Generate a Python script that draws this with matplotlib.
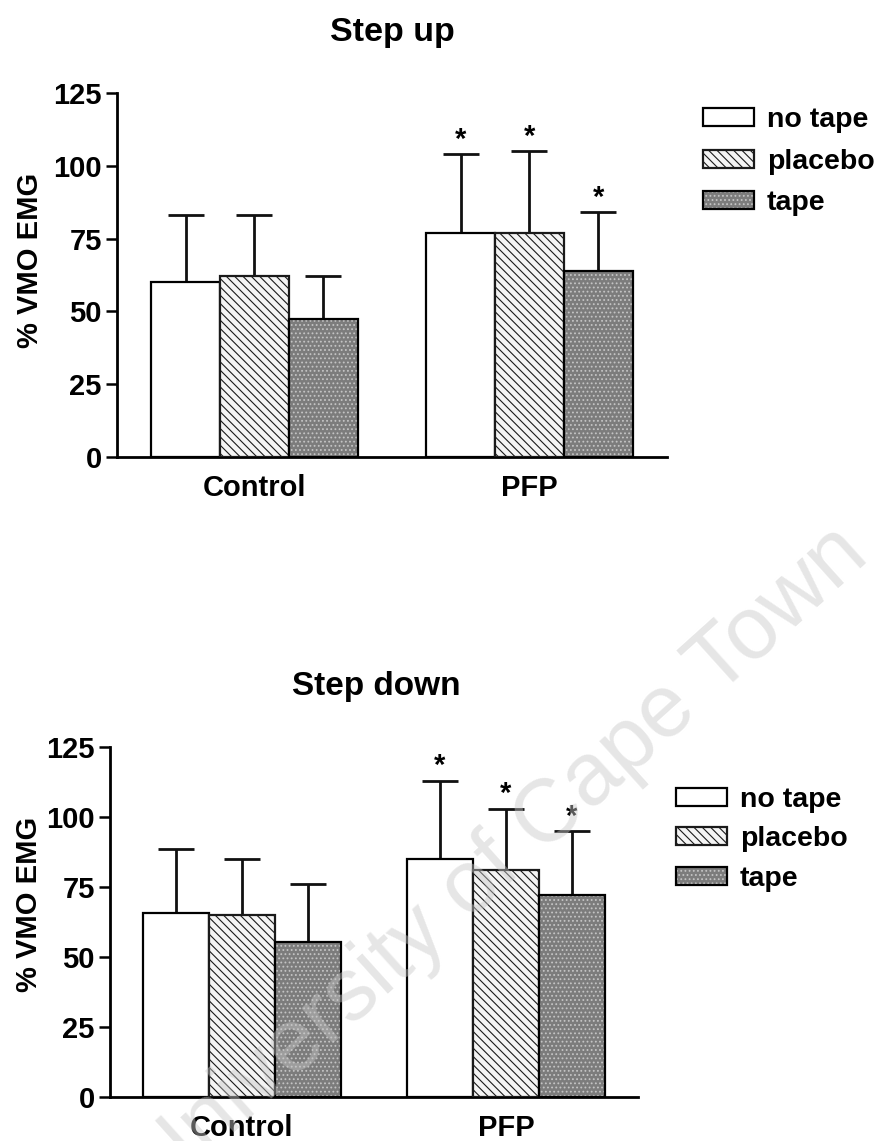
import numpy as np
import matplotlib
matplotlib.use("Agg")
import matplotlib.pyplot as plt
from matplotlib.legend_handler import HandlerTuple

plt.rcParams['font.family'] = ['Liberation Sans', 'DejaVu Sans']
plt.rcParams['font.weight'] = 'bold'
plt.rcParams['hatch.linewidth'] = 0.8

groups = ['Control', 'PFP']
conditions = ['no tape', 'placebo', 'tape']

# step up: mean and SD (% VMO EMG)
up_control_mean = [60, 62, 47.5]
up_control_sd = [23, 21, 14.5]
up_pfp_mean = [77, 77, 64]
up_pfp_sd = [27, 28, 20]

# step down
down_control_mean = [65.7, 65, 55.5]
down_control_sd = [23, 20, 20.5]
down_pfp_mean = [85, 81, 72]
down_pfp_sd = [28, 22, 23]

# * = significant vs control
pfp_sig = [True, True, True]

yticks = [0, 25, 50, 75, 100, 125]

W, H = 879, 1141
fig = plt.figure(figsize=(W / 100, H / 100), dpi=100)


def draw_panel(ax, means, sds, title, title_xy, title_size, label_xy, legend_xy, spacing):
    handles = []
    for i, cond in enumerate(conditions):
        x = np.array([1 + i, 5 + i])
        m = np.array([means[0][i], means[1][i]])
        s = np.array([sds[0][i], sds[1][i]])
        if cond == 'no tape':
            b = ax.bar(x, m, width=1.0, facecolor='white', edgecolor='black',
                       linewidth=1.6, zorder=3)
            handles.append(b.patches[0])
        elif cond == 'placebo':
            b = ax.bar(x, m, width=1.0, facecolor='#f4f4f4', edgecolor='#1a1a1a',
                       hatch='\\\\\\\\', linewidth=1.6, zorder=3)
            handles.append(b.patches[0])
        else:
            f = ax.bar(x, m, width=1.0, facecolor='#7c7c7c', edgecolor='#c4c4c4',
                       hatch='....', linewidth=0, zorder=3)
            o = ax.bar(x, m, width=1.0, fill=False, edgecolor='black',
                       linewidth=1.6, zorder=4)
            handles.append((f.patches[0], o.patches[0]))
        ax.errorbar(x, m, yerr=[np.zeros_like(s), s], fmt='none', ecolor='#111111',
                    elinewidth=2, capsize=13, capthick=2, zorder=2)
        if pfp_sig[i]:
            ax.annotate('*', (x[1], m[1] + s[1]), xytext=(0, 4.5),
                        textcoords='offset points', ha='center', va='baseline',
                        fontsize=21, fontweight='bold')

    ax.set_xlim(0, 8)
    ax.set_ylim(0, 125)
    ax.set_xticks([2, 6])
    ax.set_xticklabels(groups, fontsize=21, fontweight='bold')
    ax.set_yticks(yticks)
    ax.set_yticklabels([str(t) for t in yticks], fontsize=21, fontweight='bold')
    ax.tick_params(axis='x', length=0, pad=12)
    ax.tick_params(axis='y', length=8, width=1.8, pad=3)
    for side in ['top', 'right']:
        ax.spines[side].set_visible(False)
    for side in ['left', 'bottom']:
        ax.spines[side].set_linewidth(2)
    ax.set_ylabel('% VMO EMG', fontsize=21, fontweight='bold')
    ax.yaxis.set_label_coords(*label_xy)

    fig.text(title_xy[0] / W, 1 - title_xy[1] / H, title, ha='center', va='baseline',
             fontsize=title_size, fontweight='bold')

    fig.legend(handles, conditions, loc='upper left',
               bbox_to_anchor=(legend_xy[0] / W, 1 - legend_xy[1] / H),
               frameon=False, borderpad=0, borderaxespad=0,
               handlelength=1.8, handleheight=0.6, handletextpad=0.45,
               labelspacing=spacing, prop={'weight': 'bold', 'size': 20.5},
               handler_map={tuple: HandlerTuple(ndivide=1)})


ax1 = fig.add_axes([117 / W, 1 - 457 / H, 550 / W, 364 / H])
draw_panel(ax1, [up_control_mean, up_pfp_mean], [up_control_sd, up_pfp_sd],
           'Step up', (392, 41), 24.5, (-0.133, 0.541), (703, 107), 0.55)

ax2 = fig.add_axes([110 / W, 1 - 1097 / H, 528 / W, 350 / H])
draw_panel(ax2, [down_control_mean, down_pfp_mean], [down_control_sd, down_pfp_sd],
           'Step down', (376, 695), 24, (-0.127, 0.549), (676, 787), 0.47)

# scanned-thesis watermark
fig.text(500 / W, 1 - 862 / H, 'University of Cape Town', rotation=42,
         ha='center', va='center', fontsize=64, fontweight='normal',
         color='#c8c8c8', alpha=0.45, zorder=20)

fig.savefig('out.png', dpi=100)
